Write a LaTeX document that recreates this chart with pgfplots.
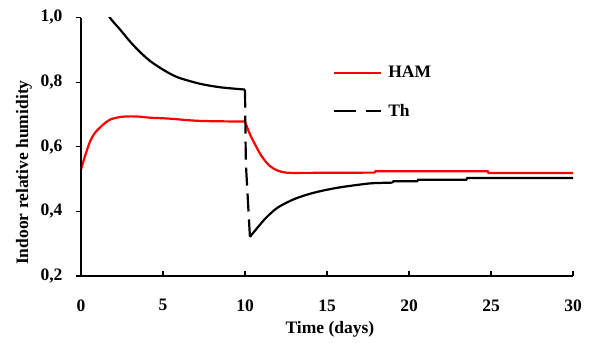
\documentclass[border=0pt]{standalone}
\usepackage{fontspec}
\setmainfont{Liberation Serif}
\usepackage{pgfplots}
\pgfplotsset{compat=1.18}
\begin{document}
\begin{tikzpicture}
\begin{axis}[
  name=ax,
  scale only axis,
  width=492bp, height=258.5bp,
  xmin=0, xmax=30, ymin=0.2, ymax=1.0,
  axis lines*=left,
  axis line style={line width=1.8bp, black},
  xtick={0,5,...,30},
  ytick={0.2,0.4,...,1.0},
  xtick align=inside,
  ytick align=outside,
  major tick length=5bp,
  tick style={line width=1.2bp, black},
  /pgf/number format/assume math mode=true,
  ticklabel style={font=\fontsize{17.5bp}{20bp}\selectfont\bfseries},
  yticklabel style={/pgf/number format/use comma, /pgf/number format/fixed, /pgf/number format/fixed zerofill, /pgf/number format/precision=1, xshift=-10bp},
  xticklabel style={yshift=-20bp},
  xlabel={Time (days)},
  ylabel={Indoor relative humidity},
  label style={font=\fontsize{17.5bp}{20bp}\selectfont\bfseries},
  xlabel style={at={(axis description cs:0.506,-0.205)}, anchor=center},
  ylabel style={at={(axis description cs:-0.116,0.40)}, anchor=center},
  clip=true,
  legend style={draw=none, fill=none, at={(axis description cs:0.512,0.82)}, anchor=north west,
    font=\fontsize{17.5bp}{20bp}\selectfont\bfseries, row sep=21bp, inner sep=0pt,
    nodes={inner xsep=6bp}},
  legend cell align=left,
  legend image code/.code={\draw[#1] (0bp,0bp) -- (47bp,0bp);},
]
\addplot[red, line width=2.2bp, smooth, tension=0.5] coordinates {
(0,0.529) (0.25,0.572) (0.55,0.616) (0.85,0.643) (1.34,0.668) (1.77,0.684)
(2.38,0.692) (3.0,0.694) (3.6,0.693) (4.2,0.690) (5.4,0.687) (7.25,0.680)
(10,0.678)
};
\addlegendentry{HAM}
\addlegendimage{black, line width=2.2bp, dash pattern=on 22bp off 10bp}
\addlegendentry{Th}
\addplot[red, line width=2.2bp, forget plot, smooth, tension=0.5] coordinates {
(10,0.678) (10.25,0.645) (10.5,0.618) (11,0.572) (11.5,0.541) (12,0.526)
(12.5,0.520) (13,0.519)
};
\addplot[red, line width=2.2bp, forget plot] coordinates {
(13,0.519) (17.9,0.520) (17.95,0.524) (24.8,0.524) (24.85,0.519) (30,0.519)
};
\addplot[black, line width=2.2bp, forget plot, smooth, tension=0.5] coordinates {
(1.0,1.07) (1.7,1.004) (2.38,0.963) (3.0,0.925)
(3.6,0.893) (4.2,0.866) (4.8,0.845) (5.4,0.827) (6.0,0.813) (7.25,0.795)
(8.5,0.784) (10,0.777)
};
\addplot[black, line width=2.2bp, forget plot] coordinates {(0,0.52) (0,1.0)};
\addplot[black, line width=2.2bp, forget plot, dash pattern=on 18bp off 8bp] coordinates {
(10,0.777) (10.05,0.55) (10.3,0.321)
};
\addplot[black, line width=2.2bp, forget plot, smooth, tension=0.5] coordinates {
(10.3,0.321) (10.8,0.352) (11.3,0.381) (12,0.412) (13,0.438) (14,0.455) (15,0.467)
(16,0.476) (17.5,0.486) (18.2,0.488) (19.0,0.489)
};
\addplot[black, line width=2.2bp, forget plot] coordinates {
(19.0,0.489) (19.05,0.493) (20.5,0.493)
(20.55,0.498) (23.5,0.498) (23.55,0.503) (30,0.503)
};
\end{axis}
\pgfresetboundingbox
\path (ax.south west) ++(-81bp,-67bp) rectangle ++(592bp,343bp);
\end{tikzpicture}
\end{document}
